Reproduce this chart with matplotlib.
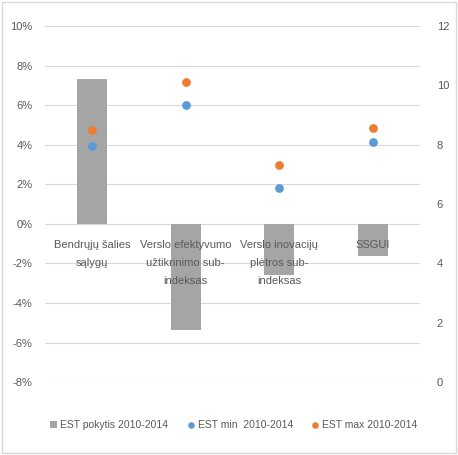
import matplotlib.pyplot as plt
from matplotlib.ticker import FuncFormatter
from matplotlib.patches import Rectangle

plt.rcParams["font.family"] = ["Liberation Sans", "DejaVu Sans"]

# Data
categories = [
    "Bendrųjų šalies\nsąlygų",
    "Verslo efektyvumo\nužtikrinimo sub-\nindeksas",
    "Verslo inovacijų\nplėtros sub-\nindeksas",
    "SSGUI",
]
change_pct = [7.3, -5.35, -2.6, -1.6]      # EST pokytis 2010-2014 (left axis, %)
est_min = [7.95, 9.35, 6.55, 8.1]          # EST min 2010-2014 (right axis)
est_max = [8.5, 10.1, 7.3, 8.55]           # EST max 2010-2014 (right axis)

GRAY = "#A5A5A5"
BLUE = "#5B9BD5"
ORANGE = "#ED7D31"
TXT = "#595959"

fig = plt.figure(figsize=(4.58, 4.55), dpi=100)
fig.patches.append(Rectangle((0.004, 0.004), 0.992, 0.992, transform=fig.transFigure,
                             fill=False, edgecolor="#D9D9D9", linewidth=1))

ax = fig.add_axes([45 / 458, 0.160, 375 / 458, 0.783])
x = list(range(len(categories)))

ax.bar(x, change_pct, width=0.32, color=GRAY, zorder=2, label="EST pokytis 2010-2014")
ax.set_ylim(-8, 10)
ax.set_yticks(range(-8, 11, 2))
ax.yaxis.set_major_formatter(FuncFormatter(lambda v, p: f"{int(v)}%"))
ax.set_xlim(-0.5, 3.5)
ax.set_xticks([])
ax.grid(axis="y", color="#D9D9D9", linewidth=0.8, zorder=0)
ax.tick_params(axis="y", length=0, labelsize=8, labelcolor=TXT, pad=9)
for s in ax.spines.values():
    s.set_visible(False)

for i, lab in enumerate(categories):
    ax.text(i, -0.8, lab, ha="center", va="top", fontsize=8, color=TXT,
            linespacing=2.0, zorder=4)

ax2 = ax.twinx()
ax2.scatter(x, est_min, s=28, color=BLUE, zorder=3, label="EST min  2010-2014")
ax2.scatter(x, est_max, s=28, color=ORANGE, zorder=3, label="EST max 2010-2014")
ax2.set_ylim(0, 12)
ax2.set_yticks(range(0, 13, 2))
ax2.tick_params(axis="y", length=0, labelsize=8, labelcolor=TXT, pad=12)
for s in ax2.spines.values():
    s.set_visible(False)

h1, l1 = ax.get_legend_handles_labels()
h2, l2 = ax2.get_legend_handles_labels()
fig.legend(h1 + h2, l1 + l2, loc="center", bbox_to_anchor=(0.51, 0.066), ncol=3,
           frameon=False, fontsize=7.5, labelcolor=TXT, handlelength=0.7,
           handletextpad=0.3, columnspacing=1.8, markerscale=0.7)

fig.savefig("out.png", dpi=100)
